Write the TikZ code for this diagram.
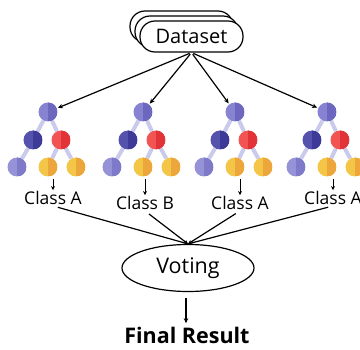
\documentclass[tikz,border=0pt]{standalone}
\usepackage{fontspec}
\setsansfont{Open Sans}
\usepackage{tikz}
\usetikzlibrary{arrows.meta,positioning,shapes.geometric,backgrounds}

\definecolor{rootL}{RGB}{134,131,210}
\definecolor{rootR}{RGB}{108,104,192}
\definecolor{darkL}{RGB}{84,82,172}
\definecolor{darkR}{RGB}{62,58,152}
\definecolor{redL}{RGB}{242,84,84}
\definecolor{redR}{RGB}{226,52,56}
\definecolor{leafL}{RGB}{150,146,216}
\definecolor{leafR}{RGB}{126,121,200}
\definecolor{yelL}{RGB}{243,198,72}
\definecolor{yelR}{RGB}{236,166,60}
\definecolor{edgeC}{RGB}{202,202,236}

\begin{document}
\begin{tikzpicture}[x=1pt,y=-1pt,
      ball/.style n args={2}{
         circle,
         inner sep=0pt,
         minimum size=19pt,
         fill=#1,
         path picture={\fill[#2] (path picture bounding box.north)
            rectangle (path picture bounding box.south east);}},
      data_box/.style={
         draw=black,
         fill=white,
         line width=1.2pt,
         rounded corners=15pt,
         minimum width=103pt,
         minimum height=31pt,
         inner sep=0pt},
      class_txt/.style={
         font=\sffamily\fontsize{17.5}{19}\selectfont,
         inner sep=1pt},
      tree_edge/.style={
         draw=edgeC,
         line width=4pt},
      arrow_black/.style={
         -{Stealth[length=5pt,width=4.5pt]},
         line width=1.2pt,
         }
]
      \useasboundingbox (0,0) rectangle (360,350);

      %dataset stack
      \node[data_box] (ds_back2) at (181.5,26.5) {};
      \node[data_box] (ds_back1) at (186.5,31.5) {};
      \node[data_box,font=\sffamily\fontsize{20}{22}\selectfont] (ds) at (191.5,36.5) {Dataset};

      %voting
      \node[ellipse,draw=black,line width=1.2pt,minimum width=132pt,minimum height=47pt,
         inner sep=0pt,font=\sffamily\fontsize{21.5}{23}\selectfont] (vote) at (188,268) {Voting};
      \node[font=\sffamily\bfseries\fontsize{21.5}{23}\selectfont] (res) at (187,335) {Final Result};
      \draw [arrow_black] (vote.south) ++(-2,6) coordinate (v_out) -- (v_out |- res.north);

    \foreach \n/\x/\cx/\cy/\txt in {% tree/root x/label x/label y/label
      1/48/53/198/Class A,
      2/143/145/203/Class B,
      3/235/240/203/Class A,
      4/327/333/198/Class A}
    {
      \node[ball={rootL}{rootR}] (t\n_root) at (\x,112) {};
      \node[ball={darkL}{darkR}] (t\n_a) at (\x-15,140) {};
      \node[ball={redL}{redR}] (t\n_b) at (\x+13,140) {};
      \node[ball={leafL}{leafR}] (t\n_l1) at (\x-31,167) {};
      \node[ball={yelL}{yelR}] (t\n_l2) at (\x,167) {};
      \node[ball={yelL}{yelR}] (t\n_l3) at (\x+28,167) {};
      \begin{scope}[on background layer]
        \draw [tree_edge] (t\n_root) -- (t\n_a);
        \draw [tree_edge] (t\n_root) -- (t\n_b);
        \draw [tree_edge] (t\n_a) -- (t\n_l1);
        \draw [tree_edge] (t\n_b) -- (t\n_l2);
        \draw [tree_edge] (t\n_b) -- (t\n_l3);
      \end{scope}
      \node[class_txt] (c\n) at (\cx,\cy) {\txt};
      \draw [arrow_black,shorten <=2pt,shorten >=1pt] (ds.south) -- (t\n_root);
      \draw [arrow_black,-{Stealth[length=4pt,width=4pt]},line width=0.9pt,shorten <=2pt]
         (t\n_l2.south -| c\n.north) -- (c\n.north);
      \draw [arrow_black,-{Stealth[length=4pt,width=4pt]},shorten <=5pt] (c\n.south) -- (vote.north);
    }

\end{tikzpicture}
\end{document}
